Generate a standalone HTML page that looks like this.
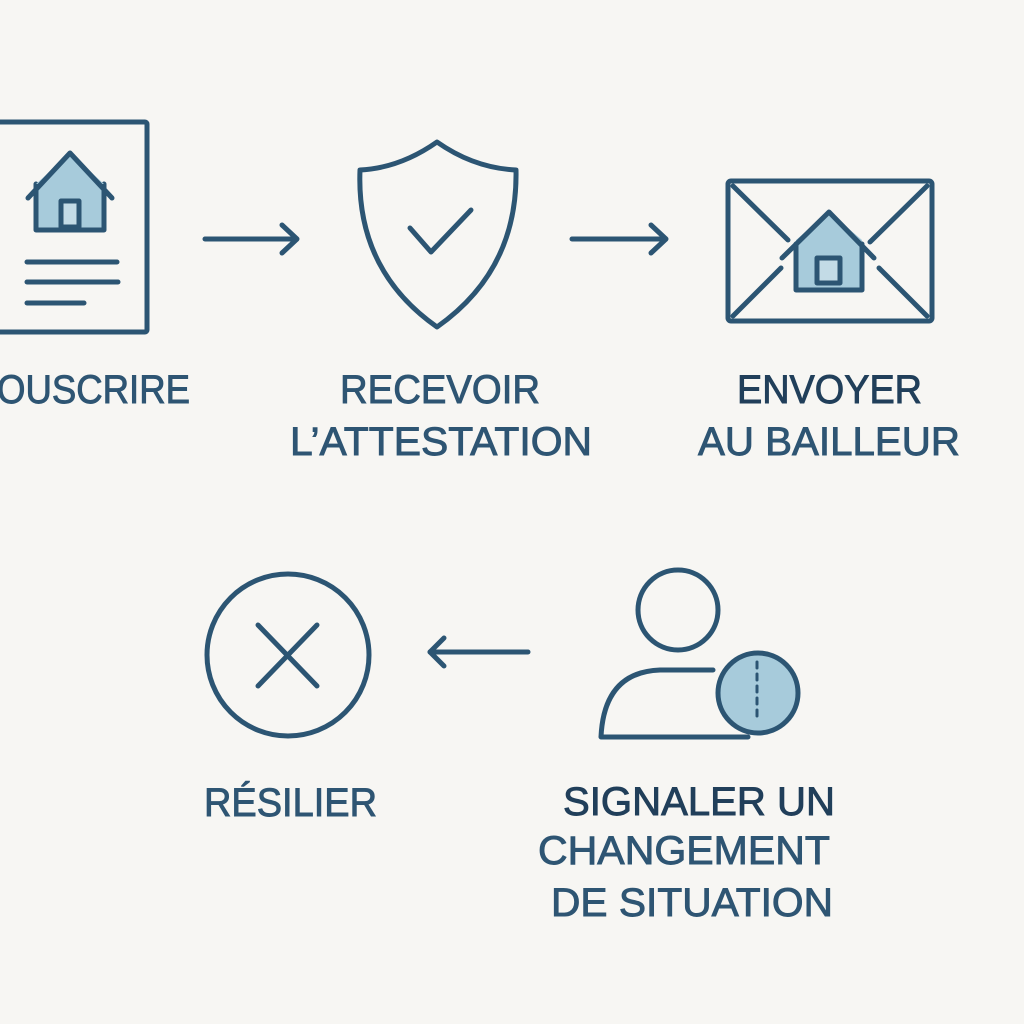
<!DOCTYPE html>
<html><head><meta charset="utf-8"><style>
html,body{margin:0;padding:0;background:#f7f6f3;}
svg{display:block}
text{font-family:"Liberation Sans",sans-serif;font-size:40px;fill:#2e5573;stroke:#2e5573;stroke-width:0.9;}
</style></head><body>
<svg width="1024" height="1024" viewBox="0 0 1024 1024">
<rect width="1024" height="1024" fill="#f7f6f3"/>
<g fill="none" stroke="#2c5573" stroke-width="5" stroke-linecap="round" stroke-linejoin="round">
<!-- document -->
<rect x="-20" y="122" width="167" height="210" rx="2"/>
<path d="M36 184 V230 H104 V184" fill="#a7cbdb"/>
<path d="M36 184 L70 153 L104 184 Z" fill="#a7cbdb" stroke="none"/>
<path d="M28 198 L70 153 L112 198"/>
<rect x="61" y="201" width="18" height="26" fill="#c3dbe6"/>
<line x1="27" y1="262" x2="117" y2="262"/>
<line x1="27" y1="282" x2="118" y2="282"/>
<line x1="27" y1="303" x2="84" y2="303"/>
<!-- arrow1 -->
<line x1="205" y1="239" x2="296" y2="239"/>
<path d="M282 225 L297 239 L282 253"/>
<!-- shield -->
<path d="M437 142 Q400 168 360 170 Q356 270 437 327 Q518 270 516 170 Q474 168 437 142 Z"/>
<path d="M410 228 L431 252 L471 210"/>
<!-- arrow2 -->
<line x1="572" y1="239" x2="665" y2="239"/>
<path d="M651 225 L666 239 L651 253"/>
<!-- envelope -->
<rect x="728" y="181" width="204" height="140" rx="3"/>
<line x1="733" y1="186" x2="788" y2="240"/>
<line x1="927" y1="186" x2="870" y2="242"/>
<line x1="733" y1="316" x2="781" y2="268"/>
<line x1="927" y1="316" x2="879" y2="268"/>
<path d="M796 240 V290 H862 V240 L829 212 Z" fill="#a7cbdb" stroke="none"/>
<path d="M796 244 V290 H862 V244"/>
<path d="M782 258 L829 212 L874 258"/>
<rect x="817" y="258" width="23" height="25" fill="#c3dbe6"/>
<!-- cancel -->
<circle cx="288" cy="655" r="81"/>
<line x1="258" y1="625" x2="317" y2="686"/>
<line x1="317" y1="625" x2="258" y2="686"/>
<!-- arrow3 -->
<line x1="430" y1="652" x2="528" y2="652"/>
<path d="M444 638 L430 652 L444 666"/>
<!-- person -->
<circle cx="678" cy="610" r="40"/>
<path d="M713 670 H660 Q604 672 601 737 H748"/>
<circle cx="758" cy="693" r="40" fill="#a7cbdb"/>
<line x1="757" y1="662" x2="757" y2="717" stroke-dasharray="6 6" stroke-width="3"/>
</g>
<text x="-3" y="403" textLength="193" lengthAdjust="spacingAndGlyphs">OUSCRIRE</text>
<text x="340" y="403" textLength="200" lengthAdjust="spacingAndGlyphs">RECEVOIR</text>
<text x="290" y="455" textLength="302" lengthAdjust="spacingAndGlyphs">L’ATTESTATION</text>
<text x="737" y="403" textLength="185" lengthAdjust="spacingAndGlyphs" style="fill:#213f5a;stroke:#213f5a">ENVOYER</text>
<text x="698" y="455" textLength="262" lengthAdjust="spacingAndGlyphs">AU BAILLEUR</text>
<text x="204" y="816" textLength="173" lengthAdjust="spacingAndGlyphs">RÉSILIER</text>
<text x="563" y="815" textLength="272" lengthAdjust="spacingAndGlyphs" style="fill:#213f5a;stroke:#213f5a">SIGNALER UN</text>
<text x="538" y="864" textLength="292" lengthAdjust="spacingAndGlyphs">CHANGEMENT</text>
<text x="551" y="916" textLength="282" lengthAdjust="spacingAndGlyphs">DE SITUATION</text>
</svg>
</body></html>
